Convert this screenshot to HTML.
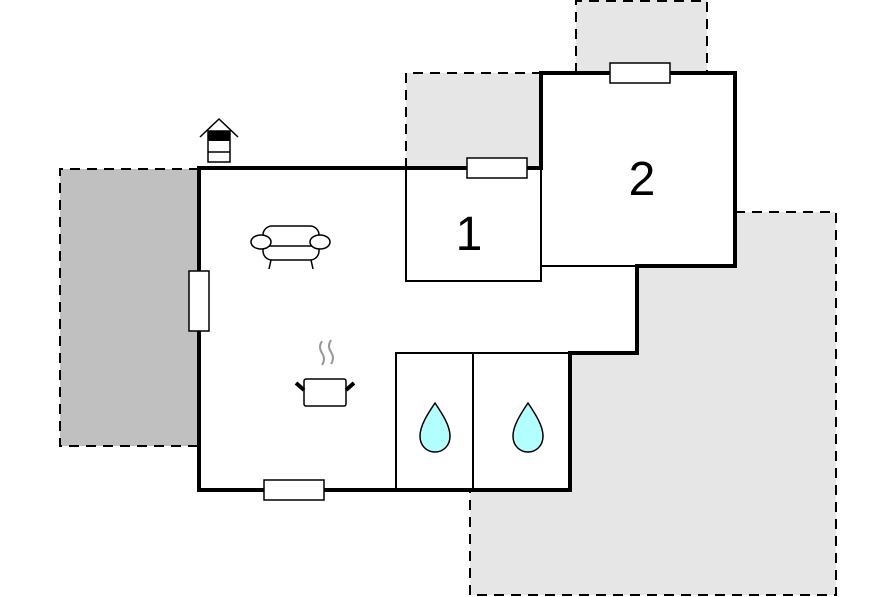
<!DOCTYPE html>
<html><head><meta charset="utf-8"><style>html,body{margin:0;padding:0;background:#fff}svg{display:block}</style></head>
<body>
<svg width="896" height="597" viewBox="0 0 896 597" xmlns="http://www.w3.org/2000/svg">
<!-- shaded areas -->
<rect x="60" y="169" width="139" height="277" fill="#c0c0c0"/>
<path d="M199,169 H60 V446 H199" fill="none" stroke="#000" stroke-width="2" stroke-dasharray="10,7"/>
<rect x="406" y="73" width="135" height="95" fill="#e6e6e6"/>
<path d="M406,168 V73 H541" fill="none" stroke="#000" stroke-width="2" stroke-dasharray="10,7"/>
<rect x="576" y="0" width="131" height="73" fill="#e6e6e6"/>
<path d="M576,73 V1 H707 V73" fill="none" stroke="#000" stroke-width="2" stroke-dasharray="10,7"/>
<polygon points="735,212 836,212 836,595 470,595 470,490 570,490 570,353 637,353 637,266 735,266" fill="#e6e6e6"/>
<path d="M735,212 H836 V595 H470 V490" fill="none" stroke="#000" stroke-width="2" stroke-dasharray="10,7"/>
<!-- building interior -->
<polygon points="199,168 541,168 541,73 735,73 735,266 637,266 637,353 570,353 570,490 199,490" fill="#fff"/>
<!-- rooms -->
<rect x="406" y="168" width="135" height="113" fill="none" stroke="#000" stroke-width="2"/>
<line x1="541" y1="266" x2="637" y2="266" stroke="#000" stroke-width="2"/>
<rect x="396" y="353" width="174" height="137" fill="none" stroke="#000" stroke-width="2"/>
<line x1="473" y1="353" x2="473" y2="490" stroke="#000" stroke-width="2"/>
<!-- walls -->
<polygon points="199,168 541,168 541,73 735,73 735,266 637,266 637,353 570,353 570,490 199,490" fill="none" stroke="#000" stroke-width="4"/>
<!-- windows -->
<rect x="467" y="158" width="60" height="20" fill="#fff" stroke="#000" stroke-width="1.5"/>
<rect x="610" y="63" width="60" height="20" fill="#fff" stroke="#000" stroke-width="1.5"/>
<rect x="189" y="271" width="20" height="60" fill="#fff" stroke="#000" stroke-width="1.5"/>
<rect x="264" y="480" width="60" height="20" fill="#fff" stroke="#000" stroke-width="1.5"/>
<!-- labels -->
<text x="469" y="250" font-family="Liberation Sans, sans-serif" font-size="48" text-anchor="middle">1</text>
<text x="642" y="195" font-family="Liberation Sans, sans-serif" font-size="48" text-anchor="middle">2</text>
<!-- chimney icon -->
<polyline points="200,137 219,119 238,137" fill="none" stroke="#000" stroke-width="1.5"/>
<rect x="208" y="131" width="22" height="31" fill="#fff" stroke="#000" stroke-width="1.5"/>
<rect x="208" y="131" width="22" height="10" fill="#000"/>
<line x1="208" y1="152" x2="230" y2="152" stroke="#000" stroke-width="1.5"/>
<!-- sofa -->
<g fill="#fff" stroke="#000" stroke-width="1.5">
<rect x="263" y="226" width="56" height="34" rx="9"/>
<line x1="269" y1="246" x2="313" y2="246"/>
<line x1="271" y1="260" x2="269" y2="269"/>
<line x1="311" y1="260" x2="313" y2="269"/>
<ellipse cx="261" cy="242" rx="10" ry="7"/>
<ellipse cx="320" cy="242" rx="10" ry="7"/>
</g>
<!-- pot -->
<path d="M322,341 q-4,6 0,12 q4,6 0,12 M331,340 q-4,6 0,12 q4,6 0,12" fill="none" stroke="#999" stroke-width="2"/>
<rect x="304" y="379" width="42" height="27" rx="2" fill="#fff" stroke="#000" stroke-width="1.5"/>
<line x1="296" y1="383" x2="304" y2="390" stroke="#000" stroke-width="4"/>
<line x1="354" y1="383" x2="346" y2="390" stroke="#000" stroke-width="4"/>
<!-- drops -->
<path d="M435,403 C429,412 420,425 420,436 C420,446 427,452 435,452 C443,452 450,446 450,436 C450,425 441,412 435,403 Z" fill="#b3ffff" stroke="#000" stroke-width="1.5"/>
<path d="M528,403 C522,412 513,425 513,436 C513,446 520,452 528,452 C536,452 543,446 543,436 C543,425 534,412 528,403 Z" fill="#b3ffff" stroke="#000" stroke-width="1.5"/>
</svg>
</body></html>
